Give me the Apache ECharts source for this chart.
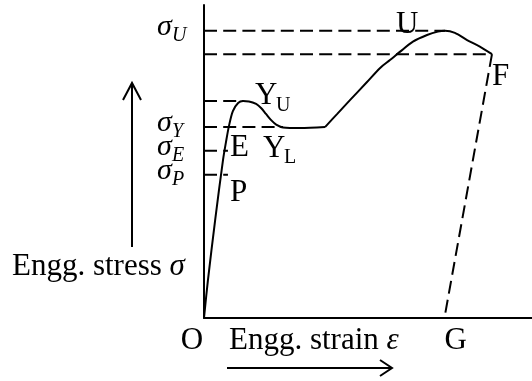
<!DOCTYPE html>
<html>
<head>
<meta charset="utf-8">
<script src="https://cdn.jsdelivr.net/npm/echarts@6/dist/echarts.min.js"></script>
<style>
  html, body { margin: 0; padding: 0; background: #fff; }
  #main { width: 532px; height: 381px; }
</style>
</head>
<body>
<div id="main"></div>
<script>
// Engineering stress–strain diagram of a ductile specimen (schematic, arbitrary units).

// Elastic range and yield region: O → P → E → Y_U → Y_L
const strainYield = [0, 1.2, 3.4, 5.8, 6.7, 7.6, 8.8, 10.4, 11.9, 13.7, 15.9, 17.4, 18.9, 20.4, 22.0, 24.1, 29.3, 36.9];
const stressYield = [0, 12.1, 31.3, 50.5, 56.2, 61.3, 66.1, 68.7, 69.3, 69.2, 68.4, 67.1, 65.2, 63.3, 61.8, 60.9, 60.7, 61.0];
// Strain hardening, ultimate point U and necking down to fracture F
const strainHarden = [36.9, 40.7, 44.5, 49.7, 53.7, 56.7, 59.8, 63.7, 68.0, 71.3, 73.5, 76.5, 80.2, 84.1, 87.8];
const stressHarden = [61.0, 65.3, 69.6, 75.4, 79.9, 82.4, 85.1, 88.3, 90.4, 91.5, 91.8, 91.1, 88.8, 86.7, 84.3];

// Reference stress levels and the strain where each dashed guide ends
const levelNames  = ['U', 'F', 'YU', 'Y', 'E', 'P'];
const levelStress = [91.8, 84.3, 69.3, 61.0, 53.4, 45.8];
const levelEnd    = [73.5, 87.8, 11.9, 24.1, 7.3, 7.3];

// Stress labels on the vertical axis: σ with subscript
const axisLabelLevels = [91.8, 61.0, 53.4, 45.8];
const axisLabelSubs   = ['U', 'Y', 'E', 'P'];

// Fracture point F and the elastic-recovery end G on the strain axis
const fracture = [87.8, 84.3];
const permanentSet = [73.3, 0];

const chart = echarts.init(document.getElementById('main'), null, { renderer: 'canvas' });

const SERIF = '"Liberation Serif", "Times New Roman", serif';
const FS = 31;
const dashed = { color: '#000', width: 2, type: [13, 6.2] };
const solid = { color: '#000', width: 2 };

const pairs = (xs, ys) => xs.map((s, i) => [s, ys[i]]);

const series = [
  { type: 'line', data: pairs(strainYield, stressYield), smooth: 0.3, showSymbol: false, silent: true, lineStyle: solid, z: 3 },
  { type: 'line', data: pairs(strainHarden, stressHarden), smooth: 0.3, showSymbol: false, silent: true, lineStyle: solid, z: 3 }
];
levelStress.forEach((v, i) => {
  series.push({
    type: 'line', name: levelNames[i],
    data: [[0, v], [levelEnd[i], v]],
    showSymbol: false, silent: true,
    lineStyle: dashed, z: 2
  });
});
series.push({
  type: 'line',
  data: [fracture, permanentSet],
  showSymbol: false, silent: true,
  lineStyle: dashed, z: 2
});

chart.setOption({
  backgroundColor: '#fff',
  animation: false,
  grid: { left: 204, right: 0, top: 5, bottom: 63 },
  xAxis: {
    type: 'value', min: 0, max: 100,
    axisLine: { show: true, lineStyle: { color: '#000', width: 2 } },
    axisTick: { show: false }, axisLabel: { show: false }, splitLine: { show: false }
  },
  yAxis: {
    type: 'value', min: 0, max: 100,
    axisLine: { show: true, lineStyle: { color: '#000', width: 2 } },
    axisTick: { show: false }, axisLabel: { show: false }, splitLine: { show: false }
  },
  series: series
});

// Text placed by its alphabetic baseline
function txt(str, x, baseline, size, italic, align) {
  return {
    type: 'text', silent: true,
    style: {
      text: str, x: x, y: baseline - 0.34 * size,
      font: (italic ? 'italic ' : '') + size + 'px ' + SERIF,
      fill: '#000', align: align || 'left', verticalAlign: 'middle'
    }
  };
}
function richTxt(parts, x, baseline, size) {
  return {
    type: 'text', silent: true,
    style: {
      text: parts.map((p, i) => '{t' + i + '|' + p[0] + '}').join(''),
      x: x, y: baseline - 0.34 * size, align: 'left', verticalAlign: 'middle',
      rich: Object.fromEntries(parts.map((p, i) => ['t' + i, {
        fontFamily: SERIF, fontSize: size, fontStyle: p[1] ? 'italic' : 'normal', fill: '#000'
      }]))
    }
  };
}
function poly(points) {
  return {
    type: 'polyline', silent: true,
    shape: { points: points },
    style: { stroke: '#000', lineWidth: 2, fill: null }
  };
}

const px = p => chart.convertToPixel({ gridIndex: 0 }, p);
const origin = px([0, 0]);
const ax = origin[0], ay = origin[1];

const g = [];
// σ labels beside the stress axis
axisLabelLevels.forEach((v, i) => {
  const y = px([0, v])[1];
  g.push(txt('σ', ax - 47, y + 6.5, 30, true));
  g.push(txt(axisLabelSubs[i], ax - 32, y + 11.5, 20, true));
});

// Point letters along the curve
const peakU = px([strainHarden[10], stressHarden[10]]);
g.push(txt('U', peakU[0] - 49, peakU[1] + 5, FS, false));
const pF = px(fracture);
g.push(txt('F', pF[0], pF[1] + 33, FS, false));
const pYU = px([strainYield[8], stressYield[8]]);
g.push(txt('Y', pYU[0] + 12, pYU[1] + 5, FS, false));
g.push(txt('U', pYU[0] + 33, pYU[1] + 11, 20, false));
const pYL = px([0, levelStress[3]]);
g.push(txt('Y', ax + 59, pYL[1] + 32, FS, false));
g.push(txt('L', ax + 80, pYL[1] + 37, 20, false));
const pE = px([0, levelStress[4]]);
g.push(txt('E', ax + 26, pE[1] + 8, FS, false));
const pP = px([0, levelStress[5]]);
g.push(txt('P', ax + 26, pP[1] + 29, FS, false));
g.push(txt('O', ax - 12, ay + 33, FS, false, 'center'));
const pG = px(permanentSet);
g.push(txt('G', pG[0], ay + 33, FS, false));

// Axis titles with direction arrows
g.push(richTxt([['Engg. strain ', false], ['ε', true]], ax + 25, ay + 33, FS));
g.push(poly([[ax + 23, ay + 50], [ax + 188, ay + 50]]));
g.push(poly([[ax + 176, ay + 42], [ax + 188, ay + 50], [ax + 176, ay + 58]]));
g.push(richTxt([['Engg. stress ', false], ['σ', true]], 12, ay - 41, FS));
g.push(poly([[ax - 72, ay - 71], [ax - 72, ay - 235]]));
g.push(poly([[ax - 81, ay - 218], [ax - 72, ay - 235], [ax - 63, ay - 218]]));

chart.setOption({ graphic: g });
</script>
</body>
</html>
